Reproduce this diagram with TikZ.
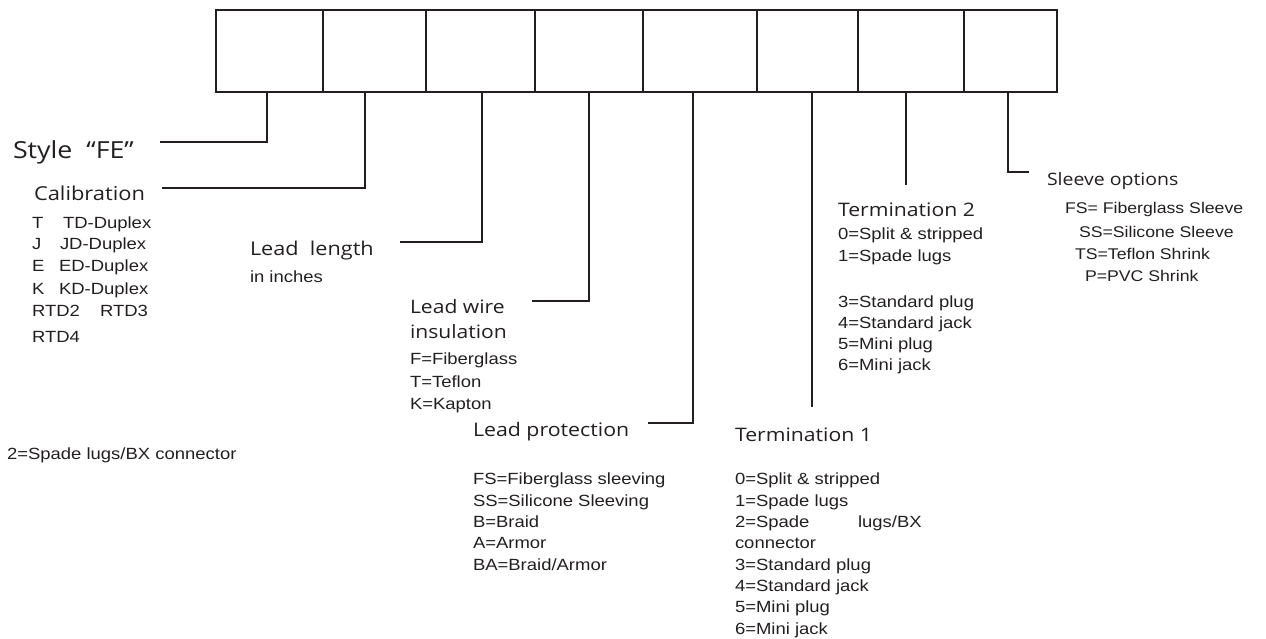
\documentclass[tikz,border=0pt]{standalone}
\usepackage{fontspec}
\setmainfont{Liberation Sans}
\newfontfamily\headfont[FakeStretch=1.14]{Open Sans}
\newfontfamily\listfont[FakeStretch=1.14]{Liberation Sans}
\definecolor{inkcol}{RGB}{35,31,32}

\begin{document}
\begin{tikzpicture}[x=1pt,y=-1pt,
  ink/.style={draw=inkcol, line width=2.2pt},
  cell/.style={ink, minimum height=82pt, inner sep=0pt, outer sep=0pt, anchor=north west, minimum width=#1},
  txt/.style={anchor=base west, inner sep=0pt, outer sep=0pt, text=inkcol},
  head/.style={txt, font=\headfont\fontsize{#1}{#1}\selectfont},
  item/.style={txt, font=\listfont\fontsize{16.2}{16.2}\selectfont},
  small/.style={txt, font=\listfont\fontsize{15.5}{15.5}\selectfont}]

\useasboundingbox (0,0) rectangle (1266,639);

% row of code cells
\node[cell=107pt] (c1) at (216,10) {};
\node[cell=103pt] (c2) at (323,10) {};
\node[cell=109pt] (c3) at (426,10) {};
\node[cell=108pt] (c4) at (535,10) {};
\node[cell=114pt] (c5) at (643,10) {};
\node[cell=101pt] (c6) at (757,10) {};
\node[cell=106pt] (c7) at (858,10) {};
\node[cell=93pt]  (c8) at (964,10) {};

% stub points on the bottom edge of the cells
\coordinate (s1) at (267,92);
\coordinate (s2) at (365,92);
\coordinate (s3) at (482,92);
\coordinate (s4) at (589,92);
\coordinate (s5) at (693,92);
\coordinate (s6) at (812,92);
\coordinate (s7) at (906,92);
\coordinate (s8) at (1008,92);

% free ends of the leader lines
\coordinate (e1) at (160,142);
\coordinate (e2) at (162,188);
\coordinate (e3) at (400,242);
\coordinate (e4) at (532,301);
\coordinate (e5) at (648,423);
\coordinate (e6) at (812,407);
\coordinate (e7) at (906,185);
\coordinate (e8) at (1029,172);

\draw[ink] (s1) |- (e1);
\draw[ink] (s2) |- (e2);
\draw[ink] (s3) |- (e3);
\draw[ink] (s4) |- (e4);
\draw[ink] (s5) |- (e5);
\draw[ink] (s6) -- (e6);
\draw[ink] (s7) -- (e7);
\draw[ink] (s8) |- (e8);

% style
\node[head=23.5] (style) at (13,159) {Style~~“FE”};

% calibration
\node[head=19.2] (calib) at (34,201) {Calibration};
\node[item] (ca1) at (32,228.5) {T};
\node[item] (cb1) at (63,228.5) {TD-Duplex};
\node[item] (ca2) at (32,249.8) {J};
\node[item] (cb2) at (60,249.8) {JD-Duplex};
\node[item] (ca3) at (32,271.5) {E};
\node[item] (cb3) at (59,271.5) {ED-Duplex};
\node[item] (ca4) at (32,294.8) {K};
\node[item] (cb4) at (59,294.8) {KD-Duplex};
\node[item] (ca5) at (32,316.8) {RTD2};
\node[item] (cb5) at (100,316.8) {RTD3};
\node[item] (ca6) at (32,342.5) {RTD4};

% lead length
\node[head=19] (len) at (250,255.5) {Lead~~length};
\node[item] (inch) at (250,282) {in inches};

% lead wire insulation
\node[head=18.5] (wire) at (410,313) {Lead wire};
\node[head=18.5] (ins) at (410,338.5) {insulation};
\node[item] (w1) at (410,364) {F=Fiberglass};
\node[item] (w2) at (410,387.5) {T=Teflon};
\node[item] (w3) at (410,409) {K=Kapton};

% lead protection
\node[head=18.7] (prot) at (473,436.7) {Lead protection};
\node[item] (p1) at (473,484) {FS=Fiberglass sleeving};
\node[item] (p2) at (473,506) {SS=Silicone Sleeving};
\node[item] (p3) at (473,527.5) {B=Braid};
\node[item] (p4) at (473,548) {A=Armor};
\node[item] (p5) at (473,570) {BA=Braid/Armor};

\node[item] (spade) at (7,459) {2=Spade lugs/BX connector};

% termination 1
\node[head=18.6] (t1) at (735,441.7) {Termination 1};
\node[item] (ta0) at (735,484) {0=Split \& stripped};
\node[item] (ta1) at (735,506) {1=Spade lugs};
\node[item] (ta2) at (735,527.5) {2=Spade};
\node[item] (ta2b) at (858,527.5) {lugs/BX};
\node[item] (ta2c) at (735,548) {connector};
\node[item] (ta3) at (735,570) {3=Standard plug};
\node[item] (ta4) at (735,591) {4=Standard jack};
\node[item] (ta5) at (735,612.5) {5=Mini plug};
\node[item] (ta6) at (735,634) {6=Mini jack};

% termination 2
\node[head=18.6] (t2) at (838,216) {Termination 2};
\node[item] (tb0) at (838,240) {0=Split \& stripped};
\node[item] (tb1) at (838,261.5) {1=Spade lugs};
\node[item] (tb3) at (838,307) {3=Standard plug};
\node[item] (tb4) at (838,328.5) {4=Standard jack};
\node[item] (tb5) at (838,349.5) {5=Mini plug};
\node[item] (tb6) at (838,370.5) {6=Mini jack};

% sleeve options
\node[head=17.1] (sleeve) at (1047,186) {Sleeve options};
\node[small] (v1) at (1065,214) {FS= Fiberglass Sleeve};
\node[small] (v2) at (1079,237.5) {SS=Silicone Sleeve};
\node[small] (v3) at (1075,259) {TS=Teflon Shrink};
\node[small] (v4) at (1085,281) {P=PVC Shrink};

\end{tikzpicture}
\end{document}
